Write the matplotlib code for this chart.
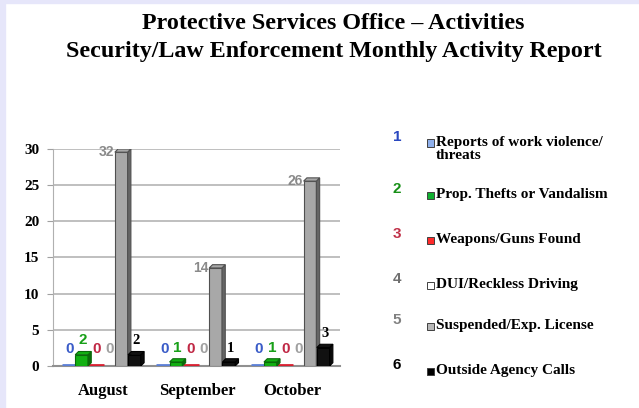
import matplotlib.pyplot as plt
import numpy as np
from matplotlib.patches import Polygon, Rectangle
from matplotlib.colors import to_rgb

months = ["August", "September", "October"]
series = ["Reports of work violence/\nthreats", "Prop. Thefts or Vandalism",
          "Weapons/Guns Found", "DUI/Reckless Driving",
          "Suspended/Exp. License", "Outside Agency Calls"]
values = [
    [0, 0, 0],     # work violence
    [2, 1, 1],     # thefts
    [0, 0, 0],     # weapons
    [0, 0, 0],     # DUI
    [32, 14, 26],  # suspended license
    [2, 1, 3],     # outside agency
]
yticks = [0, 5, 10, 15, 20, 25, 30]

face = ["#5b7fd6", "#12b012", "#d82030", "#ffffff", "#a8a8a8", "#111111"]
edge = ["#3050b0", "#0a6a0a", "#a01020", "#909090", "#505050", "#000000"]
label_col = ["#3a5cc8", "#18a018", "#c02845", "#a0a0a0", "#8a8a8a", "#000000"]
num_col = ["#2a48c0", "#189018", "#c03048", "#707070", "#808080", "#000000"]
leg_face = ["#8fb0ec", "#10b030", "#ff2a2a", "#ffffff", "#b8b8b8", "#000000"]

plt.rcParams['font.family'] = ['Liberation Serif', 'DejaVu Serif']
plt.rcParams['font.weight'] = 'bold'

fig = plt.figure(figsize=(6.39, 4.08), dpi=100)
fig.patch.set_facecolor("white")
# lavender frame on the left and top
fig.patches.append(Rectangle((0, 0), 5 / 639, 1, transform=fig.transFigure,
                             color="#e6e6fa", zorder=0))
fig.patches.append(Rectangle((0, 1 - 3 / 408), 1, 3 / 408, transform=fig.transFigure,
                             color="#e6e6fa", zorder=0))

fig.text(0.522, 0.943, "Protective Services Office \u2013 Activities",
         ha="center", va="center", fontsize=17.3, weight="bold")
fig.text(0.522, 0.875, "Security/Law Enforcement Monthly Activity Report",
         ha="center", va="center", fontsize=17.3, weight="bold")

ax = fig.add_axes([0.083, 0.103, 0.449, 0.532])
ymax = 30
ax.set_ylim(0, ymax)
ax.set_xlim(-0.53, 2.51)

x = np.arange(len(months))
step = 0.14
w = 0.17
dx, dy = 0.035, 0.45
for i, vals in enumerate(values):
    pos = x + (i - 2.5) * step
    for xp, v in zip(pos, vals):
        h = min(v, ymax)
        left, right = xp - w / 2, xp + w / 2 - dx
        if h > 0:
            dark = tuple(c * 0.6 for c in to_rgb(face[i]))
            ax.add_patch(Rectangle((left, 0), right - left, h - dy, facecolor=face[i],
                                   edgecolor=edge[i], lw=0.8, zorder=3 + i))
            ax.add_patch(Polygon([(right, 0), (right + dx, dy), (right + dx, h),
                                  (right, h - dy)], closed=True, facecolor=dark,
                                 edgecolor=edge[i], lw=0.8, zorder=3 + i))
            ax.add_patch(Polygon([(left, h - dy), (left + dx, h), (right + dx, h),
                                  (right, h - dy)], closed=True, facecolor=face[i],
                                 edgecolor=edge[i], lw=0.8, zorder=3 + i))
        elif i != 3:
            ax.plot([left, right + dx], [0.1, 0.1], color=face[i], lw=2, zorder=3,
                    solid_capstyle="butt")
        if i == 4:
            ax.text(left - 0.01, h - 0.4, str(v), ha="right", va="center",
                    fontsize=10, weight="bold", color=label_col[i],
                    family=["Liberation Sans", "DejaVu Sans"])
        else:
            ax.annotate(str(v), (xp, h), xytext=(0, 3 if h > 0 else 7),
                        textcoords="offset points", ha="center", va="bottom",
                        fontsize=10.5 if i == 5 else 11, weight="bold",
                        color=label_col[i], zorder=10,
                        family=(["Liberation Serif"] if i == 5 else ["Liberation Sans Narrow", "Liberation Sans"]))

ax.set_yticks(yticks)
ax.yaxis.grid(True, color="#b4b4b4", lw=1.2, zorder=0)
ax.set_axisbelow(True)
ax.set_xticks(x)
ax.set_xticklabels(months, fontsize=12, weight="bold")
ax.tick_params(axis="x", length=0, pad=12)
ax.tick_params(axis="y", length=4, color="#a0a0a0", labelsize=11, pad=6)
for s in ["top", "right"]:
    ax.spines[s].set_visible(False)
ax.spines["left"].set_color("#b0b0b0")
ax.spines["bottom"].set_color("#909090")
ax.spines["bottom"].set_linewidth(1.5)

# legend
rows = [143, 195, 240, 285, 326, 371]
for i, (lab, yy) in enumerate(zip(series, rows)):
    yf = 1 - yy / 408
    fig.text(397 / 639, yf + 0.014, str(i + 1), ha="center", va="center",
             fontsize=11, weight="bold", color=num_col[i],
             family=["Liberation Sans", "DejaVu Sans"])
    fig.patches.append(Rectangle((427 / 639, yf - 3.5 / 408), 7 / 639, 7 / 408,
                                 transform=fig.transFigure, facecolor=leg_face[i],
                                 edgecolor="#404040", lw=0.7))
    fig.text(436 / 639, yf + 7 / 408, lab, ha="left", va="top", fontsize=11,
             weight="bold", linespacing=1.05)

fig.savefig("out.png", dpi=100)
